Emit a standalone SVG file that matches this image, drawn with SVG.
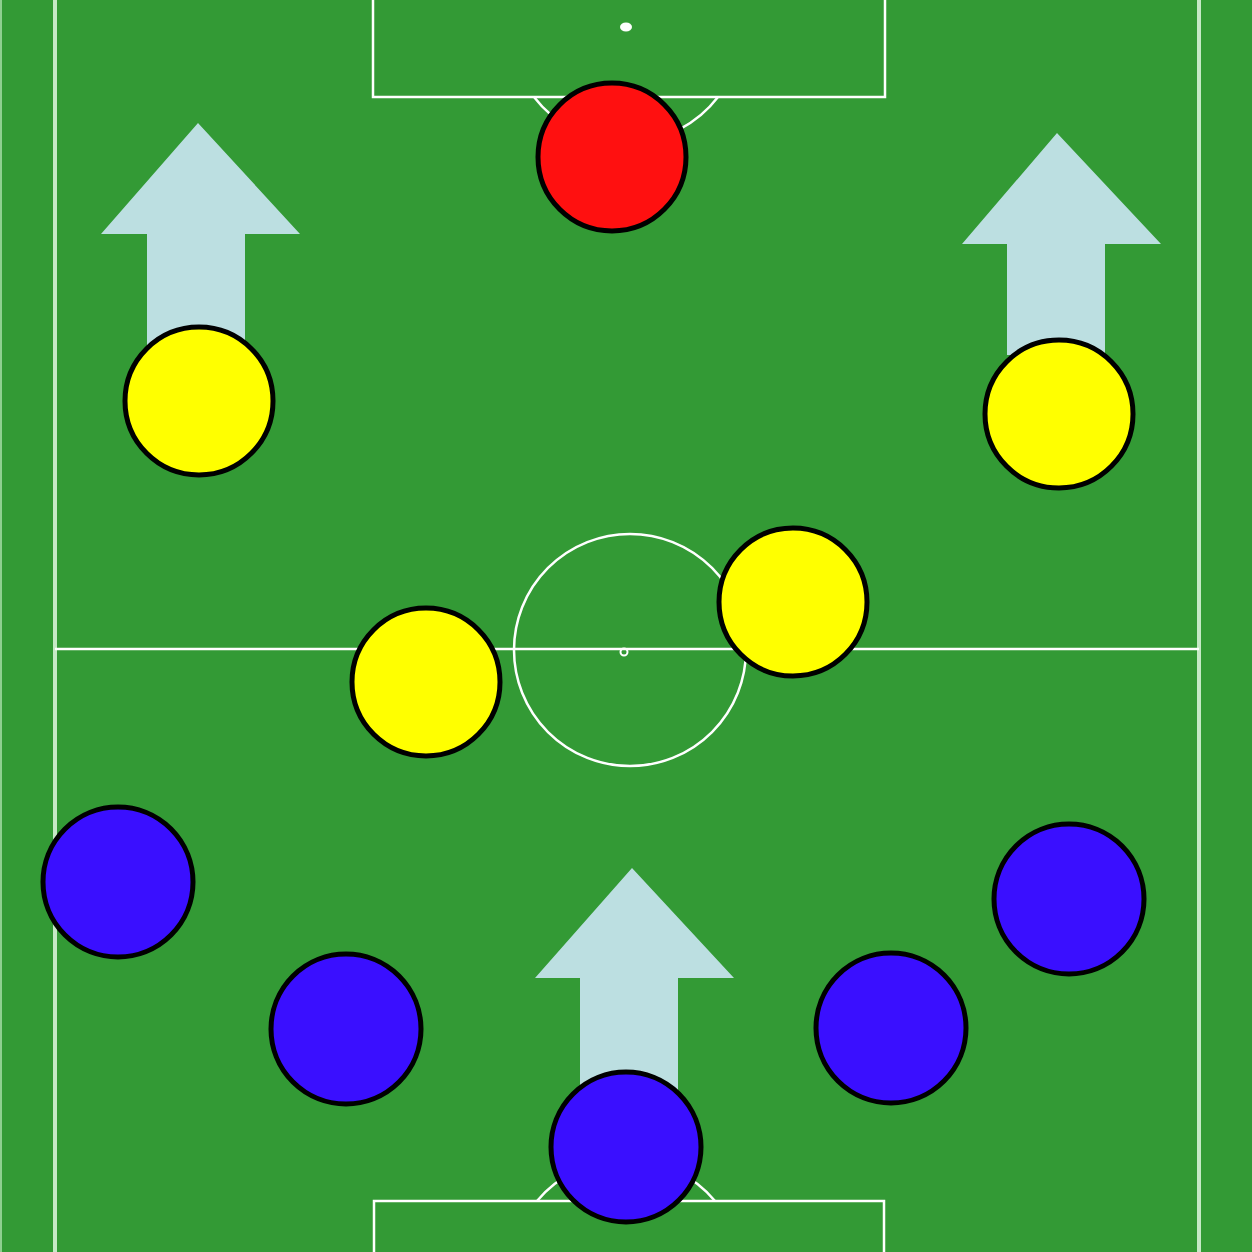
<svg xmlns="http://www.w3.org/2000/svg" width="1252" height="1252" viewBox="0 0 1252 1252">
<defs>
<style>
.line{fill:none;stroke:#ffffff;stroke-width:2.5}
.side{fill:none;stroke:#c6e9c6;stroke-width:4}
.arrow{fill:#bcdfe1}
.p{stroke:#000000;stroke-width:5}
.red{fill:#ff1010}
.yellow{fill:#ffff00}
.blue{fill:#3a0fff}
</style>
</defs>
<g id="pitch">
<rect x="0" y="0" width="1252" height="1252" fill="#339a35"/>
<rect x="0" y="0" width="2" height="1252" fill="#8fcf90"/>
<line class="side" x1="55" y1="0" x2="55" y2="1252"/>
<line class="side" x1="1199" y1="0" x2="1199" y2="1252"/>
<line class="line" x1="55" y1="649" x2="1199" y2="649"/>
<circle class="line" cx="630" cy="650" r="116"/>
<circle cx="624" cy="652" r="3.5" fill="none" stroke="#ffffff" stroke-width="2"/>
<path class="line" d="M373,-5 V97 H885 V-5"/>
<ellipse cx="626" cy="27" rx="6" ry="4.5" fill="#ffffff"/>
<path class="line" d="M534,97 A116,116 0 0 0 718,97"/>
<path class="line" d="M374,1257 V1201 H884 V1257"/>
<path class="line" d="M537,1201 A116,116 0 0 1 715,1201"/>
</g>
<g id="arrows">
<polygon id="arrow-left" class="arrow" points="198,123 300,234 245,234 245,345 147,345 147,234 101,234"/>
<polygon id="arrow-right" class="arrow" points="1057,133 1161,244 1105,244 1105,355 1007,355 1007,244 962,244"/>
<polygon id="arrow-bottom" class="arrow" points="632,868 734,978 678,978 678,1090 580,1090 580,978 535,978"/>
</g>
<g id="gk-red"><circle class="p red" cx="612" cy="157" r="74"/></g>
<g id="yellow-1"><circle class="p yellow" cx="199" cy="401" r="74"/></g>
<g id="yellow-2"><circle class="p yellow" cx="1059" cy="414" r="74"/></g>
<g id="yellow-3"><circle class="p yellow" cx="426" cy="682" r="74"/></g>
<g id="yellow-4"><circle class="p yellow" cx="793" cy="602" r="74"/></g>
<g id="blue-1"><circle class="p blue" cx="118" cy="882" r="75"/></g>
<g id="blue-2"><circle class="p blue" cx="346" cy="1029" r="75"/></g>
<g id="blue-3"><circle class="p blue" cx="626" cy="1147" r="75"/></g>
<g id="blue-4"><circle class="p blue" cx="891" cy="1028" r="75"/></g>
<g id="blue-5"><circle class="p blue" cx="1069" cy="899" r="75"/></g>
</svg>
